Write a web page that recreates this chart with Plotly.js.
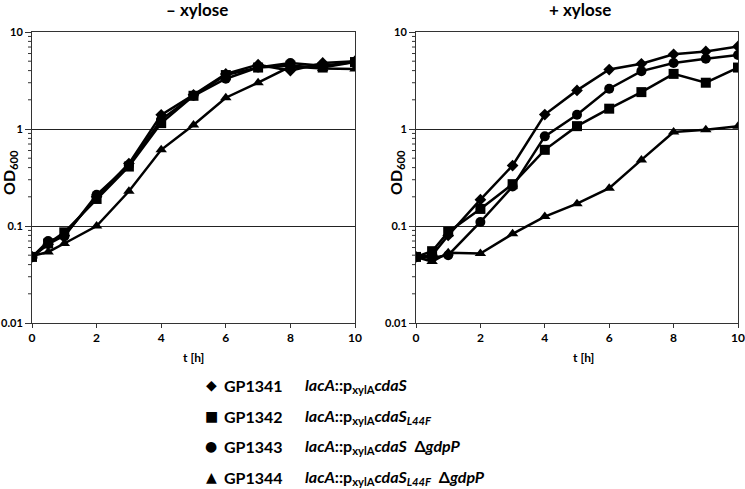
<!DOCTYPE html>
<html>
<head>
<meta charset="utf-8">
<script src="https://cdn.plot.ly/plotly-3.0.1.min.js"></script>
<style>
  body { margin: 0; background: #fff; }
  #grafico { width: 745px; height: 489px; }
</style>
</head>
<body>
<div id="grafico"></div>
<script>
// tiempos de muestreo (h)
const horas = [0, 0.5, 1, 2, 3, 4, 5, 6, 7, 8, 9, 10];

// OD600 sin xilosa
const sinXil1341 = [0.048, 0.065, 0.08, 0.2, 0.44, 1.4, 2.25, 3.7, 4.6, 4.0, 4.8, 5.0];
const sinXil1342 = [0.048, 0.066, 0.086, 0.19, 0.41, 1.15, 2.2, 3.6, 4.3, 4.5, 4.3, 4.9];
const sinXil1343 = [0.048, 0.07, 0.078, 0.21, 0.42, 1.25, 2.2, 3.3, 4.3, 4.8, 4.5, 4.9];
const sinXil1344 = [0.049, 0.054, 0.066, 0.1, 0.228, 0.61, 1.1, 2.1, 3.0, 4.4, 4.2, 4.15];

// OD600 con xilosa
const conXil1341 = [0.048, 0.05, 0.08, 0.187, 0.42, 1.41, 2.5, 4.1, 4.7, 5.9, 6.3, 7.1];
const conXil1342 = [0.048, 0.055, 0.087, 0.15, 0.27, 0.61, 1.07, 1.62, 2.4, 3.7, 3.0, 4.3];
const conXil1343 = [0.048, 0.047, 0.05, 0.11, 0.255, 0.84, 1.4, 2.6, 3.95, 4.8, 5.3, 5.8];
const conXil1344 = [0.048, 0.043, 0.053, 0.052, 0.083, 0.125, 0.17, 0.245, 0.48, 0.93, 0.98, 1.07];

const cepas = ["GP1341", "GP1342", "GP1343", "GP1344"];
const simbolos = ["diamond", "square", "circle", "triangle-up"];
const simbolosTexto = ["◆", "■", "●", "▲"];
const genotipos = [
  "<i>lacA</i>::p<sub>xylA</sub><i>cdaS</i>",
  "<i>lacA</i>::p<sub>xylA</sub><i>cdaS<sub>L44F</sub></i>",
  "<i>lacA</i>::p<sub>xylA</sub><i>cdaS</i>  Δ<i>gdpP</i>",
  "<i>lacA</i>::p<sub>xylA</sub><i>cdaS<sub>L44F</sub></i>  Δ<i>gdpP</i>"
];
const yTicks = [0.01, 0.1, 1, 10];
const yTickText = ["0.01", "0.1", "1", "10"];

const W = 745, H = 489;
const px = (x) => x / W;
const py = (y) => 1 - y / H;
const fuente = "Lato, 'Open Sans', sans-serif";
const tamMarcador = [9, 10, 10, 10];

// marcas menores del eje log (2..9 de cada decada)
const menores = [];
[0.01, 0.1, 1].forEach((d) => {
  for (let k = 2; k <= 9; k++) menores.push(+(k * d).toPrecision(3));
});

const crearTrazas = (series, xa, ya) =>
  series.map((vals, i) => ({
    x: horas,
    y: vals,
    xaxis: xa,
    yaxis: ya,
    type: "scatter",
    mode: "lines+markers",
    line: { color: "#000", width: 2.5 },
    marker: { symbol: simbolos[i], size: tamMarcador[i], color: "#000" },
    name: cepas[i],
    showlegend: false
  }));

const datos = [
  ...crearTrazas([sinXil1341, sinXil1342, sinXil1343, sinXil1344], "x", "y"),
  ...crearTrazas([conXil1341, conXil1342, conXil1343, conXil1344], "x2", "y2")
];

const ejeX = (dom, ancla) => ({
  domain: dom,
  anchor: ancla,
  range: [0, 10],
  dtick: 2,
  showgrid: false,
  zeroline: false,
  showline: true,
  mirror: true,
  linecolor: "#333",
  linewidth: 1,
  ticks: "outside",
  ticklen: 4,
  tickcolor: "#333",
  ticklabeloverflow: "allow",
  tickfont: { family: fuente, size: 12, color: "#000", weight: "bold" }
});

const ejeY = (ancla) => ({
  domain: [py(323), py(32)],
  anchor: ancla,
  type: "log",
  range: [-2, 1],
  tickvals: yTicks,
  ticktext: yTickText,
  showgrid: true,
  gridcolor: "#222",
  gridwidth: 1,
  zeroline: false,
  showline: true,
  mirror: true,
  linecolor: "#333",
  linewidth: 1,
  ticks: "outside",
  ticklen: 6,
  tickcolor: "#333",
  tickfont: { family: fuente, size: 11, color: "#000", weight: "bold" }
});

// marcas menores dibujadas como segmentos junto a cada eje y
const marcasMenores = [];
[["y", 32], ["y2", 416]].forEach(([eje, x0]) => {
  menores.forEach((v) => {
    marcasMenores.push({
      type: "line", xref: "paper", yref: eje,
      x0: px(x0 - 4), x1: px(x0), y0: v, y1: v,
      line: { color: "#333", width: 1 }
    });
  });
});

const anotaciones = [
  { x: px(197), y: py(9), text: "<b>– xylose</b>", font: { size: 17 } },
  { x: px(580), y: py(9), text: "<b>+ xylose</b>", font: { size: 17 } },
  { x: px(193), y: py(357), text: "<b>t [h]</b>", font: { size: 12 } },
  { x: px(583), y: py(357), text: "<b>t [h]</b>", font: { size: 12 } },
  { x: px(9), y: py(173), text: "<b>OD<sub>600</sub></b>", textangle: -90, font: { size: 16 } },
  { x: px(396), y: py(173), text: "<b>OD<sub>600</sub></b>", textangle: -90, font: { size: 16 } }
];

// leyenda a mano, como en la figura original
const filas = [385, 416, 446, 477];
cepas.forEach((c, i) => {
  anotaciones.push({ x: px(211), y: py(filas[i]), text: simbolosTexto[i],
    font: { size: 14, family: "DejaVu Sans" } });
  anotaciones.push({ x: px(222), y: py(filas[i]), text: "<b>" + c + "</b>",
    xanchor: "left", font: { size: 16 } });
  anotaciones.push({ x: px(303), y: py(filas[i]), text: "<b>" + genotipos[i] + "</b>",
    xanchor: "left", font: { size: 16 } });
});

const diseño = {
  width: W,
  height: H,
  margin: { l: 0, r: 0, t: 0, b: 0 },
  paper_bgcolor: "#fff",
  plot_bgcolor: "#fff",
  font: { family: fuente, color: "#000" },
  xaxis: ejeX([px(32), px(355)], "y"),
  yaxis: ejeY("x"),
  xaxis2: ejeX([px(416), px(738)], "y2"),
  yaxis2: ejeY("x2"),
  shapes: marcasMenores,
  annotations: anotaciones.map((a) => Object.assign(
    { xref: "paper", yref: "paper", showarrow: false, xanchor: "center", yanchor: "middle" },
    a,
    { font: Object.assign({ family: fuente, color: "#000" }, a.font) }
  ))
};

Plotly.newPlot("grafico", datos, diseño, { staticPlot: true });
</script>
</body>
</html>
